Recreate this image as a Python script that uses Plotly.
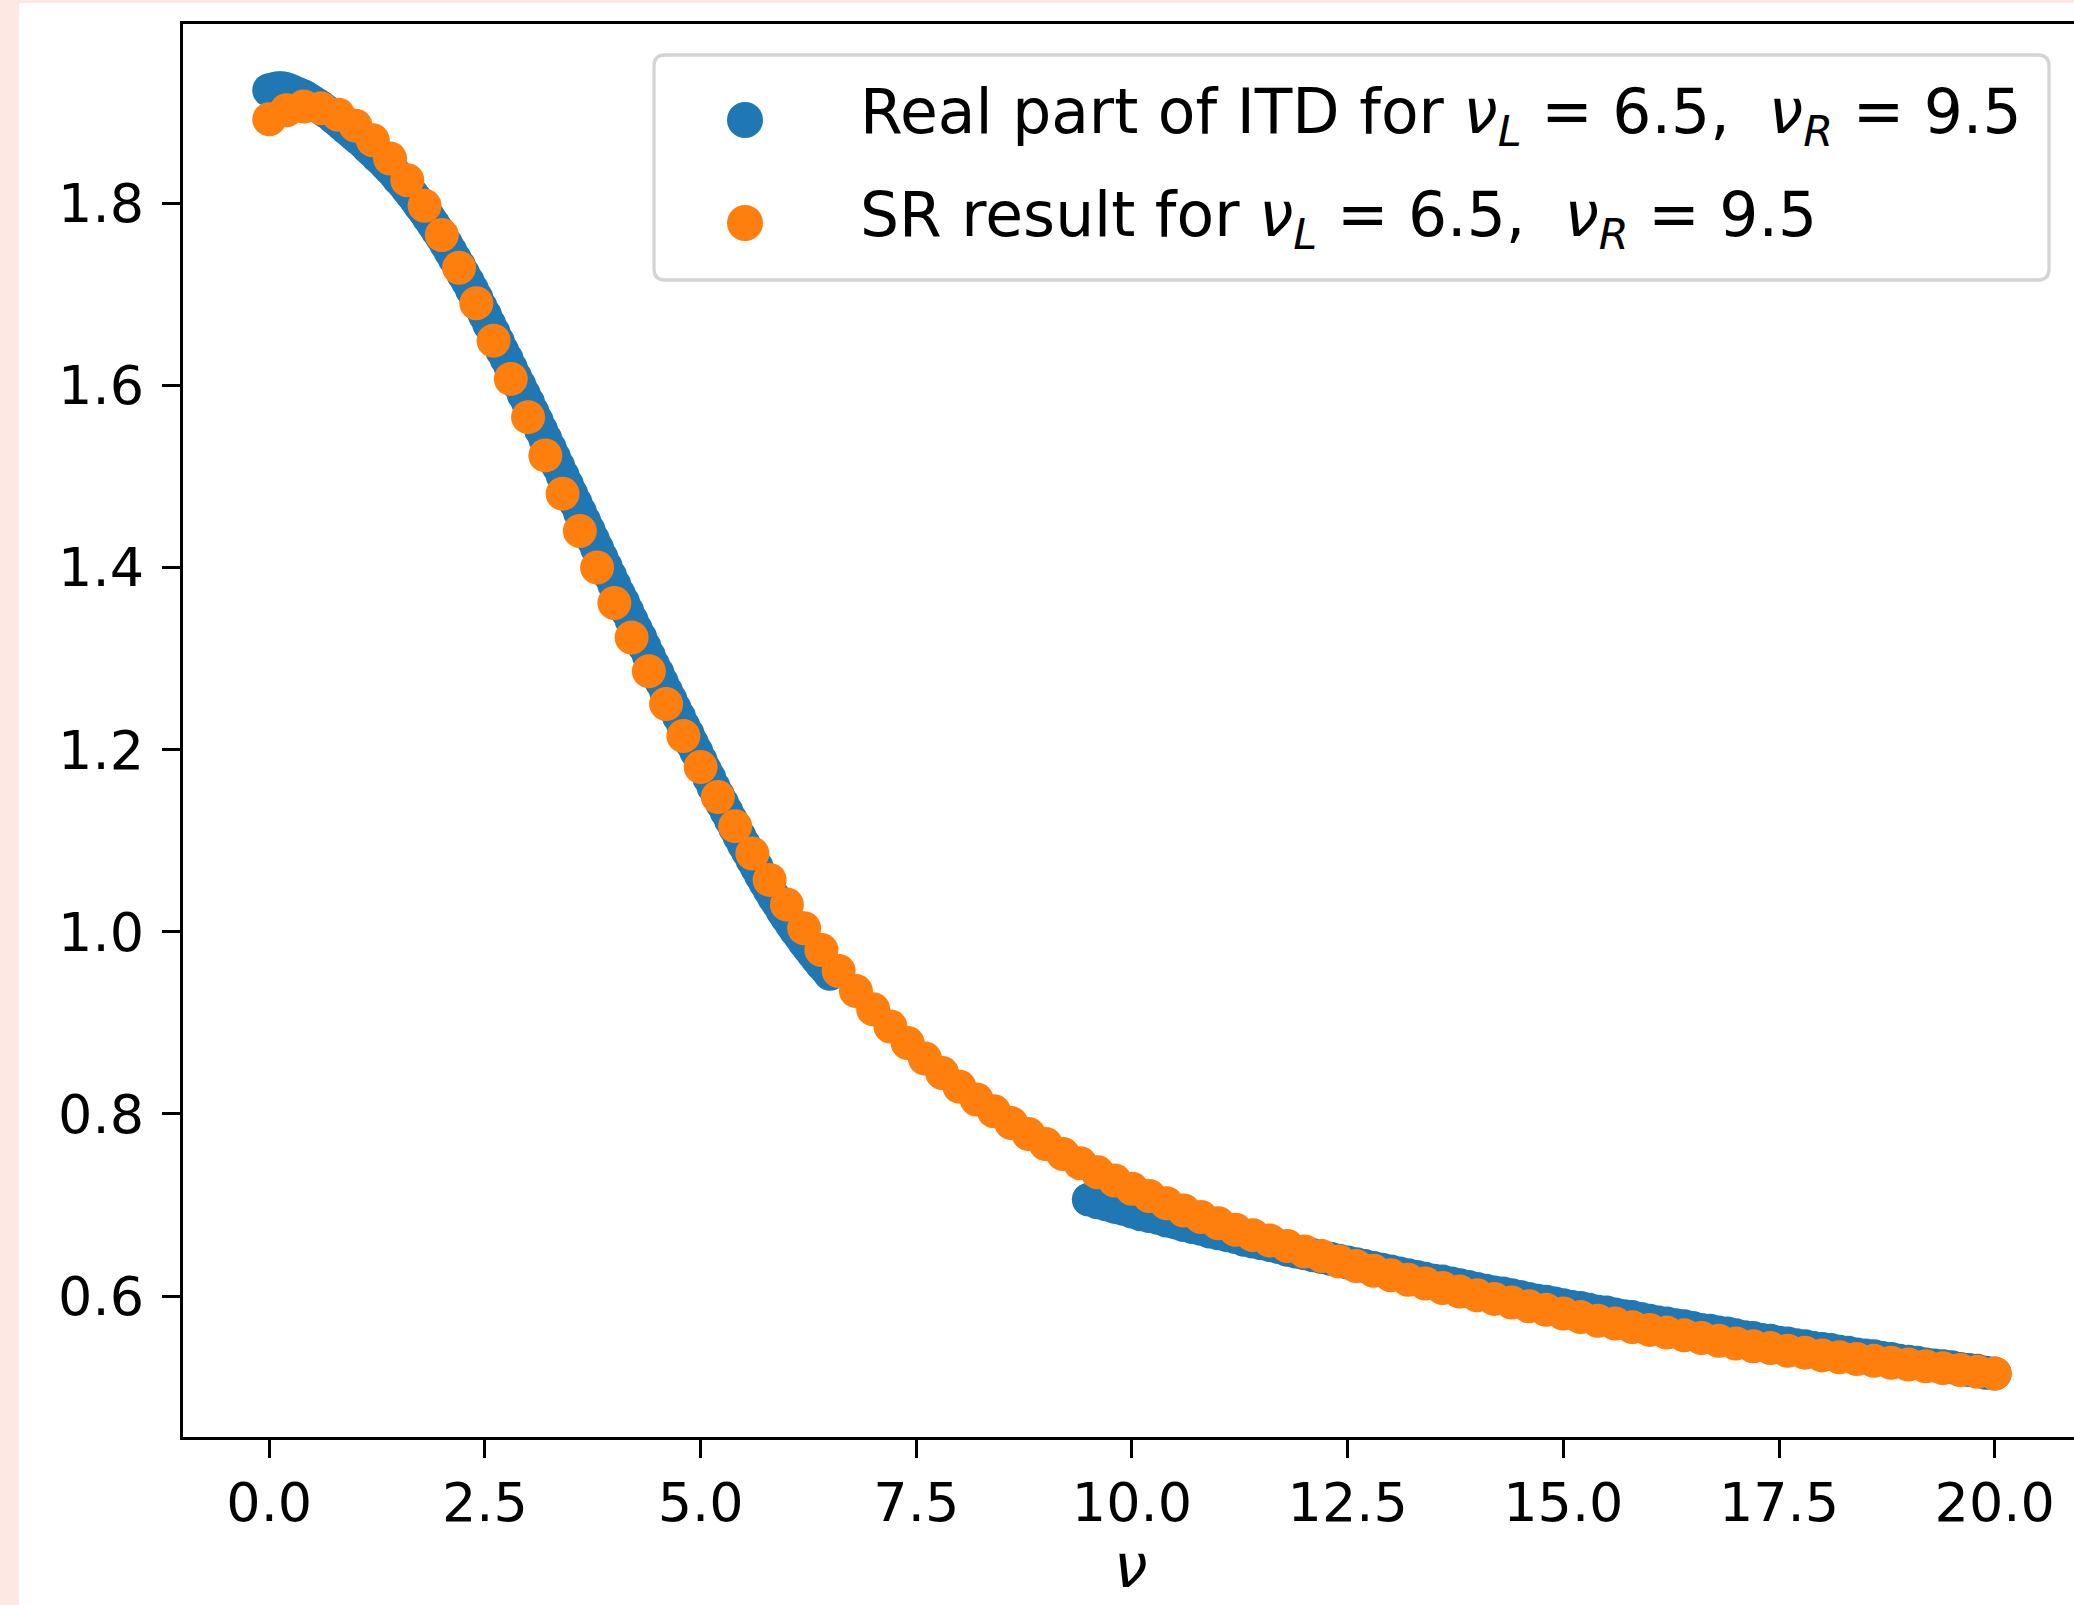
import numpy as np
import plotly.graph_objects as go

# Real part of the reduced Ioffe-time distribution, lower and upper nu windows
itd_nu_low = np.round(np.linspace(0.0, 6.5, 131), 2)
itd_re_low = [
    1.924, 1.925, 1.926, 1.926, 1.925, 1.923, 1.921, 1.919, 1.917, 1.914,
    1.911, 1.908, 1.905, 1.901, 1.898, 1.894, 1.890, 1.886, 1.882, 1.878,
    1.874, 1.870, 1.866, 1.861, 1.857, 1.852, 1.848, 1.843, 1.838, 1.833,
    1.827, 1.822, 1.816, 1.810, 1.804, 1.797, 1.791, 1.784, 1.777, 1.770,
    1.763, 1.755, 1.747, 1.739, 1.731, 1.722, 1.714, 1.705, 1.696, 1.686,
    1.677, 1.667, 1.658, 1.648, 1.638, 1.629, 1.619, 1.609, 1.600, 1.590,
    1.581, 1.571, 1.561, 1.551, 1.541, 1.531, 1.521, 1.511, 1.501, 1.491,
    1.481, 1.471, 1.461, 1.451, 1.441, 1.431, 1.421, 1.411, 1.401, 1.391,
    1.381, 1.371, 1.362, 1.352, 1.342, 1.332, 1.323, 1.313, 1.303, 1.293,
    1.284, 1.274, 1.264, 1.255, 1.245, 1.236, 1.226, 1.217, 1.207, 1.198,
    1.188, 1.178, 1.169, 1.159, 1.150, 1.141, 1.132, 1.123, 1.114, 1.105,
    1.096, 1.088, 1.079, 1.071, 1.062, 1.054, 1.046, 1.038, 1.031, 1.023,
    1.016, 1.009, 1.002, 0.996, 0.989, 0.983, 0.977, 0.971, 0.965, 0.960,
    0.954,
]

itd_nu_high = np.round(np.linspace(9.5, 20.0, 106), 1)
itd_re_high = [
    0.706, 0.703, 0.701, 0.698, 0.696, 0.693,
    0.690, 0.688, 0.686, 0.683, 0.681, 0.678, 0.676, 0.674, 0.671, 0.669,
    0.667, 0.665, 0.662, 0.660, 0.658, 0.656, 0.654, 0.651, 0.649, 0.647,
    0.645, 0.643, 0.641, 0.639, 0.637, 0.635, 0.633, 0.631, 0.629, 0.627,
    0.625, 0.623, 0.621, 0.619, 0.617, 0.616, 0.614, 0.612, 0.610, 0.608,
    0.606, 0.604, 0.603, 0.601, 0.599, 0.597, 0.595, 0.594, 0.592, 0.590,
    0.588, 0.587, 0.585, 0.583, 0.582, 0.580, 0.578, 0.577, 0.575, 0.573,
    0.571, 0.570, 0.568, 0.567, 0.565, 0.563, 0.562, 0.560, 0.559, 0.557,
    0.555, 0.554, 0.552, 0.551, 0.549, 0.548, 0.546, 0.545, 0.543, 0.542,
    0.541, 0.539, 0.538, 0.536, 0.535, 0.534, 0.532, 0.531, 0.529, 0.528,
    0.527, 0.525, 0.524, 0.523, 0.522, 0.520, 0.519, 0.518, 0.516, 0.515,
]

# Super-resolution reconstruction over the full nu range
sr_nu = np.round(np.linspace(0.0, 20.0, 101), 1)
sr_re = [
    1.892, 1.902, 1.906, 1.904, 1.897, 1.885, 1.869, 1.849, 1.825, 1.797,
    1.765, 1.729, 1.690, 1.649, 1.607, 1.565, 1.523, 1.481, 1.440, 1.400,
    1.361, 1.323, 1.286, 1.250, 1.215, 1.181, 1.148, 1.116, 1.086, 1.057,
    1.030, 1.004, 0.980, 0.957, 0.935, 0.915, 0.896, 0.878, 0.861, 0.845,
    0.830, 0.816, 0.803, 0.790, 0.778, 0.767, 0.756, 0.746, 0.736, 0.727,
    0.718, 0.710, 0.702, 0.694, 0.687, 0.680, 0.673, 0.667, 0.661, 0.655,
    0.649, 0.644, 0.638, 0.633, 0.628, 0.623, 0.618, 0.614, 0.609, 0.605,
    0.601, 0.597, 0.593, 0.589, 0.585, 0.581, 0.577, 0.573, 0.570, 0.566,
    0.563, 0.560, 0.557, 0.554, 0.551, 0.548, 0.545, 0.543, 0.540, 0.538,
    0.535, 0.533, 0.531, 0.529, 0.527, 0.525, 0.523, 0.521, 0.519, 0.517,
    0.515,
]

x_ticks = [0.0, 2.5, 5.0, 7.5, 10.0, 12.5, 15.0, 17.5, 20.0]
x_tick_labels = ["0.0", "2.5", "5.0", "7.5", "10.0", "12.5", "15.0", "17.5", "20.0"]
y_ticks = [0.6, 0.8, 1.0, 1.2, 1.4, 1.6, 1.8]
y_tick_labels = ["0.6", "0.8", "1.0", "1.2", "1.4", "1.6", "1.8"]
x_title = "<i>ν</i>"

series_names = [
    "Real part of ITD for <i>ν</i><sub><i>L</i></sub> = 6.5,  <i>ν</i><sub><i>R</i></sub> = 9.5",
    "SR result for <i>ν</i><sub><i>L</i></sub> = 6.5,  <i>ν</i><sub><i>R</i></sub> = 9.5",
]
series_colors = ["#1f77b4", "#ff7f0e"]

# ---- page geometry (pixels) ----
W, H = 2074, 1605
ML, MT, MB, MR = 183, 24, 168, 0
PW, PH = W - ML - MR, H - MT - MB
FONT = "DejaVu Sans"
TICK_SIZE = 54
LEGEND_SIZE = 61.5
TITLE_SIZE = 60
MARKER = 34


def px_to_paper_x(px):
    return (px - ML) / PW


def px_to_paper_y(py):
    return (H - MB - py) / PH


fig = go.Figure()
fig.add_trace(go.Scatter(
    x=np.concatenate([itd_nu_low, itd_nu_high]),
    y=list(itd_re_low) + list(itd_re_high),
    mode="markers",
    name=series_names[0],
    marker=dict(size=MARKER, color=series_colors[0], line=dict(width=0)),
    showlegend=False,
))
fig.add_trace(go.Scatter(
    x=sr_nu,
    y=sr_re,
    mode="markers",
    name=series_names[1],
    marker=dict(size=MARKER, color=series_colors[1], line=dict(width=0)),
    showlegend=False,
))

axis_common = dict(
    automargin=False,
    showgrid=False,
    zeroline=False,
    showline=True,
    linecolor="black",
    linewidth=3.4,
    ticks="outside",
    ticklen=18,
    tickwidth=3.2,
    tickcolor="black",
    tickfont=dict(family=FONT, size=TICK_SIZE, color="black"),
)

fig.update_xaxes(
    **axis_common,
    mirror=True,
    range=[-1.0, -1.0 + PW / 86.27],
    tickvals=x_ticks,
    ticktext=x_tick_labels,
    ticklabelstandoff=-2,
)
fig.update_yaxes(
    **axis_common,
    mirror=False,
    range=[0.4454, 1.9966],
    tickvals=y_ticks,
    ticktext=y_tick_labels,
    ticklabelstandoff=7,
)

shapes = []
# pale pink strips along the left and top edges of the page
shapes.append(dict(
    type="rect", xref="paper", yref="paper", layer="below",
    x0=px_to_paper_x(-5), x1=px_to_paper_x(19),
    y0=px_to_paper_y(-5), y1=px_to_paper_y(H + 5),
    fillcolor="#fde8e4", line=dict(width=0),
))
shapes.append(dict(
    type="rect", xref="paper", yref="paper", layer="below",
    x0=px_to_paper_x(-5), x1=px_to_paper_x(W + 5),
    y0=px_to_paper_y(-5), y1=px_to_paper_y(3),
    fillcolor="#fde8e4", line=dict(width=0),
))

# legend frame with rounded corners
box_l, box_r, box_t, box_b = 654, 2049, 55, 280
hw, hh, rad = (box_r - box_l) / 2, (box_b - box_t) / 2, 11
frame_path = (
    f"M {-hw + rad},{-hh} L {hw - rad},{-hh} Q {hw},{-hh} {hw},{-hh + rad} "
    f"L {hw},{hh - rad} Q {hw},{hh} {hw - rad},{hh} "
    f"L {-hw + rad},{hh} Q {-hw},{hh} {-hw},{hh - rad} "
    f"L {-hw},{-hh + rad} Q {-hw},{-hh} {-hw + rad},{-hh} Z"
)
shapes.append(dict(
    type="path", xref="paper", yref="paper", layer="above",
    xsizemode="pixel", ysizemode="pixel",
    xanchor=px_to_paper_x((box_l + box_r) / 2),
    yanchor=px_to_paper_y((box_t + box_b) / 2),
    path=frame_path,
    fillcolor="white", line=dict(color="#d4d4d4", width=3.3),
))

text_rows = [116, 219]
key_rows = [120, 223]
key_x, text_x = 745, 858
annotations = []
for name, color, ty, ky in zip(series_names, series_colors, text_rows, key_rows):
    shapes.append(dict(
        type="circle", xref="paper", yref="paper", layer="above",
        xsizemode="pixel", ysizemode="pixel",
        xanchor=px_to_paper_x(key_x), yanchor=px_to_paper_y(ky),
        x0=-18, x1=18, y0=-18, y1=18,
        fillcolor=color, line=dict(width=0),
    ))
    annotations.append(dict(
        xref="paper", yref="paper",
        x=px_to_paper_x(text_x), y=px_to_paper_y(ty),
        xanchor="left", yanchor="middle",
        text=name, showarrow=False,
        font=dict(family=FONT, size=LEGEND_SIZE, color="black"),
    ))

# x-axis label, centred under the full axes width
annotations.append(dict(
    xref="paper", yref="paper",
    x=px_to_paper_x(1131), y=px_to_paper_y(1566),
    xanchor="center", yanchor="middle",
    text=x_title, showarrow=False,
    font=dict(family=FONT, size=TITLE_SIZE, color="black"),
))

fig.update_layout(
    template="none",
    width=W,
    height=H,
    margin=dict(l=ML, r=MR, t=MT, b=MB, pad=0, autoexpand=False),
    paper_bgcolor="white",
    plot_bgcolor="white",
    font=dict(family=FONT, color="black"),
    shapes=shapes,
    annotations=annotations,
    showlegend=False,
)

fig.write_html("out.html")
